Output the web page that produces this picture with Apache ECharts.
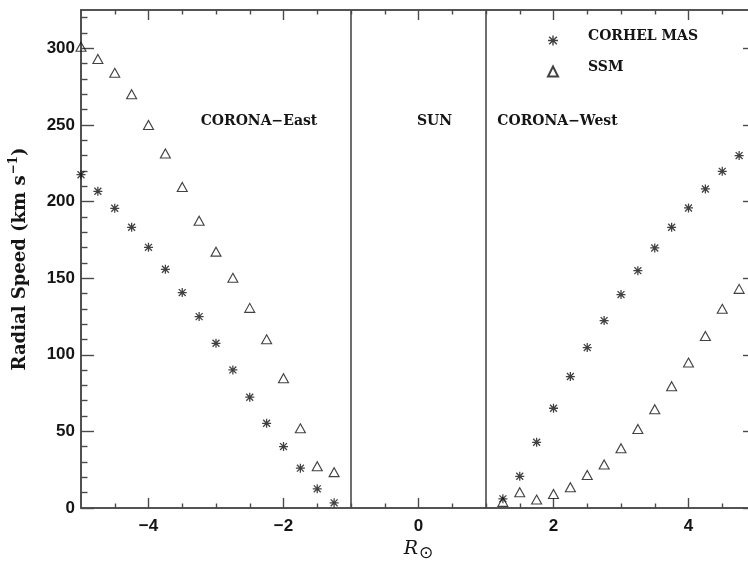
<!DOCTYPE html>
<html>
<head>
<meta charset="utf-8">
<script src="https://cdn.jsdelivr.net/npm/echarts@6/dist/echarts.min.js"></script>
<style>
  html, body { margin: 0; padding: 0; background: #fff; }
  #chart { width: 748px; height: 561px; }
</style>
</head>
<body>
<div id="chart"></div>
<script>
// Heliocentric distance (solar radii), east limb is negative, west limb positive
const xEast = [-5, -4.75, -4.5, -4.25, -4, -3.75, -3.5, -3.25, -3, -2.75, -2.5, -2.25, -2, -1.75, -1.5, -1.25];
const xWest = [1.25, 1.5, 1.75, 2, 2.25, 2.5, 2.75, 3, 3.25, 3.5, 3.75, 4, 4.25, 4.5, 4.75];

// Radial speed, km/s
const masEast = [217.5, 206.7, 195.6, 183.2, 170.1, 155.8, 140.6, 124.9, 107.5, 90.1, 72.3, 55.3, 40.1, 26, 12.5, 3.4];
const ssmEast = [301, 293, 284, 270, 250, 231.4, 209.5, 187.5, 167.3, 150.2, 130.6, 110.1, 84.7, 52, 27.3, 23.4];
const masWest = [6, 20.7, 42.9, 65.1, 85.8, 104.7, 122.3, 139.3, 154.9, 169.7, 183.2, 195.8, 208.2, 219.7, 230];
const ssmWest = [4, 10.3, 5.5, 9.2, 13.6, 21.6, 28.4, 39, 51.6, 64.5, 79.5, 94.9, 112.3, 130, 143];

// Solar limb boundaries
const boundaries = [-1, 1];

// Ticks
const xMajorTicks = [-4, -2, 0, 2, 4];
const xMinorTicks = [-4.5, -3.5, -3, -2.5, -1.5, -1, -0.5, 0.5, 1, 1.5, 2.5, 3, 3.5, 4.5];
const yMajorTicks = [0, 50, 100, 150, 200, 250, 300];
const yMinorTicks = [10, 20, 30, 40, 60, 70, 80, 90, 110, 120, 130, 140, 160, 170, 180, 190,
                     210, 220, 230, 240, 260, 270, 280, 290, 310, 320];

const pairs = (xs, ys) => xs.map((x, i) => [x, ys[i]]);

const AXIS_COLOR = '#4a4a4a';
const TEXT_COLOR = '#151515';
const SERIF = '"DejaVu Serif", serif';
const SANS = '"Liberation Sans", Arial, sans-serif';

const asteriskPath = 'path://M0 8.6H20V11.4H0Z M8.6 0H11.4V20H8.6Z ' +
  'M1.3 3.3L3.3 1.3L18.7 16.7L16.7 18.7Z M16.7 1.3L18.7 3.3L3.3 18.7L1.3 16.7Z';

const minus = v => String(v).replace('-', '\u2212');

function xAxisDef(position, ticks, len, withLabels, extra) {
  return Object.assign({
    type: 'value', min: -5, max: 5, position: position,
    axisLine: { show: true, onZero: false, lineStyle: { color: AXIS_COLOR, width: 1.6 } },
    axisTick: { show: true, inside: true, length: len, customValues: ticks,
                lineStyle: { color: AXIS_COLOR, width: 1.4 } },
    axisLabel: { show: withLabels, customValues: ticks, formatter: minus, margin: 10,
                 fontSize: 17, fontWeight: 'bold', color: TEXT_COLOR, fontFamily: SANS },
    splitLine: { show: false }
  }, extra || {});
}

function yAxisDef(position, ticks, len, withLabels, extra) {
  return Object.assign({
    type: 'value', min: 0, max: 325, position: position,
    axisLine: { show: true, onZero: false, lineStyle: { color: AXIS_COLOR, width: 1.6 } },
    axisTick: { show: true, inside: true, length: len, customValues: ticks,
                lineStyle: { color: AXIS_COLOR, width: 1.4 } },
    axisLabel: { show: withLabels, customValues: ticks, margin: 6,
                 fontSize: 17, fontWeight: 'bold', color: TEXT_COLOR, fontFamily: SANS },
    splitLine: { show: false }
  }, extra || {});
}

const chart = echarts.init(document.getElementById('chart'), null, { renderer: 'canvas' });

chart.setOption({
  animation: false,
  backgroundColor: '#fff',
  grid: { left: 81, top: 10, width: 675, height: 498, containLabel: false, outerBoundsMode: 'none' },
  xAxis: [
    xAxisDef('bottom', xMajorTicks, 10, true, {
      name: '{r|R}{o|\u2299}',
      nameLocation: 'middle',
      nameGap: 27,
      nameTextStyle: {
        rich: {
          r: { fontFamily: SERIF, fontStyle: 'italic', fontSize: 19, color: TEXT_COLOR },
          o: { fontFamily: '"DejaVu Sans", sans-serif', fontSize: 17, color: TEXT_COLOR, padding: [9, 0, 0, 1] }
        }
      }
    }),
    xAxisDef('bottom', xMinorTicks, 4.5, false),
    xAxisDef('top', xMajorTicks, 10, false),
    xAxisDef('top', xMinorTicks, 4.5, false)
  ],
  yAxis: [
    yAxisDef('left', yMajorTicks, 13, true, {
      name: '{t|Radial Speed (km s}{s|\u22121}{t|)}',
      nameLocation: 'middle',
      nameGap: 49,
      nameRotate: 90,
      nameTextStyle: {
        rich: {
          t: { fontFamily: SERIF, fontWeight: 'bold', fontSize: 18, color: TEXT_COLOR },
          s: { fontFamily: SERIF, fontWeight: 'bold', fontSize: 12, color: TEXT_COLOR, padding: [0, 0, 12, 1] }
        }
      }
    }),
    yAxisDef('left', yMinorTicks, 6.5, false),
    yAxisDef('right', yMajorTicks, 13, false),
    yAxisDef('right', yMinorTicks, 6.5, false)
  ],
  legend: {
    data: ['CORHEL MAS', 'SSM'],
    orient: 'vertical',
    left: 542,
    top: 24,
    itemWidth: 10,
    itemHeight: 10,
    itemGap: 8,
    formatter: name => '{n|' + name + '}',
    textStyle: {
      padding: [0, 0, 0, 25],
      rich: {
        n: { fontFamily: SERIF, fontWeight: 'bold', fontSize: 14, color: TEXT_COLOR,
             lineHeight: 16, padding: [0, 0, 9, 0] }
      }
    }
  },
  graphic: [
    { type: 'text', x: 259, y: 121, style: { text: 'CORONA\u2212East', textAlign: 'center', textVerticalAlign: 'middle',
      font: 'bold 14px ' + SERIF, fill: TEXT_COLOR } },
    { type: 'text', x: 434.5, y: 121, style: { text: 'SUN', textAlign: 'center', textVerticalAlign: 'middle',
      font: 'bold 14px ' + SERIF, fill: TEXT_COLOR } },
    { type: 'text', x: 557.5, y: 121, style: { text: 'CORONA\u2212West', textAlign: 'center', textVerticalAlign: 'middle',
      font: 'bold 14px ' + SERIF, fill: TEXT_COLOR } }
  ],
  series: [
    {
      name: 'CORHEL MAS',
      type: 'scatter',
      xAxisIndex: 0, yAxisIndex: 0,
      symbol: asteriskPath,
      symbolSize: 9,
      itemStyle: { color: '#111' },
      data: pairs(xEast, masEast).concat(pairs(xWest, masWest)),
      markLine: {
        silent: true,
        symbol: 'none',
        label: { show: false },
        lineStyle: { color: AXIS_COLOR, width: 1.6, type: 'solid' },
        data: boundaries.map(v => ({ xAxis: v }))
      }
    },
    {
      name: 'SSM',
      type: 'scatter',
      xAxisIndex: 0, yAxisIndex: 0,
      symbol: 'triangle',
      symbolSize: [10, 9],
      itemStyle: { color: 'rgba(255,255,255,0)', borderColor: '#111', borderWidth: 1.1 },
      data: pairs(xEast, ssmEast).concat(pairs(xWest, ssmWest))
    }
  ]
});
</script>
</body>
</html>
